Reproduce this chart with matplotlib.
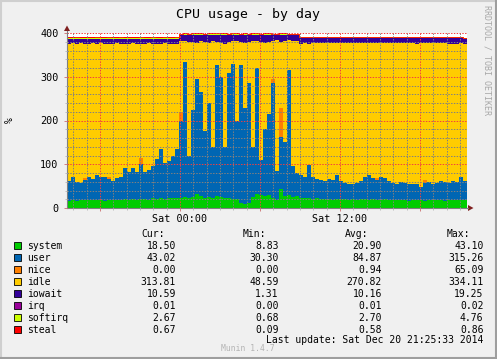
import numpy as np
import matplotlib.pyplot as plt
from matplotlib.patches import Polygon, Rectangle
from matplotlib.lines import Line2D
from matplotlib.ticker import MultipleLocator, FuncFormatter

plt.rcParams['font.family'] = 'DejaVu Sans Mono'

# time axis: hours relative to Sat 00:00, 100 samples of 18 min (30 h window)
T_START = -8.475
STEP = 0.3

system = [17, 18, 17, 18, 18, 19, 18, 19, 18, 17, 18, 19, 18, 19, 20, 19, 21, 19, 20, 20,
          19, 22, 20, 23, 21, 24, 22, 23,
          24, 25, 23, 26, 32, 27, 24, 26, 23, 28, 25, 24, 22, 21, 20, 12, 9, 11, 25, 32,
          30, 28, 30, 22, 18, 43, 27, 30, 25, 28,
          24, 22, 23, 21, 22, 20, 21, 20, 19, 20, 21, 20, 19, 20, 19, 20, 21, 19, 20, 18,
          19, 20, 18, 19, 18, 19, 18, 17, 18, 19, 18, 17, 18, 18, 19, 18, 17, 18, 19, 18,
          19, 18.5]
user = [45, 54, 43, 40, 45, 51, 49, 57, 54, 53, 48, 43, 50, 53, 72, 63, 71, 63, 80, 63,
        68, 73, 92, 112, 81, 84, 96, 112,
        176, 309, 97, 199, 262, 239, 151, 214, 117, 299, 275, 116, 286, 309, 180, 315, 220, 274, 115, 288,
        80, 152, 185, 263, 67, 120, 123, 285, 70, 52,
        51, 48, 75, 51, 44, 44, 41, 46, 45, 55, 41, 38, 37, 35, 39, 42, 49, 56, 48, 47,
        51, 48, 44, 39, 38, 41, 40, 38, 36, 37, 31, 41, 42, 37, 39, 44, 43, 40, 43, 42,
        53, 43]
nice = [0, 0, 0, 0, 5, 0, 0, 0, 0, 0, 6, 0, 0, 0, 0, 0, 0, 0, 15, 0,
        0, 0, 0, 0, 0, 0, 0, 0,
        20, 0, 0, 0, 0, 0, 0, 0, 0, 0, 0, 0, 0, 0, 0, 0, 0, 0, 0, 0,
        0, 0, 0, 10, 0, 65, 0, 0, 0, 0,
        0, 0, 0, 0, 0, 0, 0, 0, 0, 0, 0, 0, 0, 0, 0, 0, 0, 0, 0, 4,
        0, 0, 0, 0, 0, 0, 0, 0, 0, 0, 0, 6, 0, 0, 0, 0, 0, 0, 0, 0,
        0, 0]
idle = [314, 305, 316, 319, 308, 305, 310, 300, 305, 306, 303, 314, 309, 304, 283, 294, 285, 294, 259, 293,
        290, 281, 263, 241, 275, 267, 258, 240,
        161, 48, 259, 155, 84, 116, 204, 137, 241, 53, 78, 236, 71, 51, 182, 53, 149, 94, 241, 62,
        270, 197, 164, 86, 298, 152, 232, 68, 286, 302,
        301, 307, 278, 305, 312, 313, 316, 311, 314, 302, 316, 319, 322, 322, 320, 315, 307, 303, 309, 309,
        307, 310, 315, 320, 321, 318, 319, 323, 323, 320, 328, 314, 317, 323, 319, 316, 317, 318, 313, 316,
        305, 314]
iowait = [11, 10, 11, 10, 11, 12, 10, 11, 10, 11, 12, 11, 10, 11, 12, 11, 10, 11, 13, 11,
          10, 11, 12, 11, 10, 12, 11, 12,
          14, 13, 16, 15, 17, 13, 16, 18, 14, 15, 17, 19, 16, 14, 13, 15, 17, 16, 14, 13,
          15, 18, 16, 14, 12, 15, 13, 12, 14, 13,
          12, 11, 12, 11, 10, 11, 10, 11, 10, 11, 10, 11, 10, 11, 10, 11, 11, 10, 11, 10,
          11, 10, 11, 10, 11, 10, 11, 10, 11, 12, 11, 10, 11, 10, 11, 10, 11, 12, 13, 12,
          11, 10.6]
irq = [0.01, 0.01, 0.01, 0.01, 0.01, 0.01, 0.01, 0.01, 0.01, 0.01, 0.01, 0.01, 0.01, 0.01, 0.01, 0.01, 0.01, 0.01, 0.01, 0.01,
       0.01, 0.01, 0.01, 0.01, 0.01, 0.01, 0.01, 0.01, 0.01, 0.01, 0.01, 0.01, 0.01, 0.01, 0.01, 0.01, 0.01, 0.01, 0.01, 0.01,
       0.01, 0.01, 0.01, 0.01, 0.01, 0.01, 0.01, 0.01, 0.01, 0.01, 0.01, 0.01, 0.01, 0.01, 0.01, 0.01, 0.01, 0.01, 0.01, 0.01,
       0.01, 0.01, 0.01, 0.01, 0.01, 0.01, 0.01, 0.01, 0.01, 0.01, 0.01, 0.01, 0.01, 0.01, 0.01, 0.01, 0.01, 0.01, 0.01, 0.01,
       0.01, 0.01, 0.01, 0.01, 0.01, 0.01, 0.01, 0.01, 0.01, 0.01, 0.01, 0.01, 0.01, 0.01, 0.01, 0.01, 0.01, 0.01, 0.01, 0.01]
softirq = [2.6, 2.7, 2.8, 2.6, 2.7, 2.5, 2.7, 2.8, 2.6, 2.7, 2.9, 2.6, 2.7, 2.8, 2.6, 2.7, 2.5, 2.7, 2.8, 2.6,
           2.7, 2.9, 2.6, 2.7, 2.8, 2.6, 2.7, 2.8,
           3.1, 3.4, 2.9, 3.6, 3.2, 3.8, 3.0, 3.5, 3.3, 4.1, 3.2, 3.6, 3.0, 3.9, 3.4, 3.1, 3.7, 3.2, 3.5, 4.8,
           3.0, 3.3, 3.6, 3.1, 2.9, 3.4, 3.2, 3.0, 2.8, 2.7,
           2.6, 2.7, 2.6, 2.5, 2.7, 2.6, 2.8, 2.6, 2.7, 2.5, 2.6, 2.7, 2.6, 2.8, 2.6, 2.5, 2.7, 2.6, 2.7, 2.6,
           2.5, 2.7, 2.6, 2.8, 2.6, 2.7, 2.6, 2.5, 2.7, 2.6, 2.7, 2.6, 2.8, 2.6, 2.5, 2.7, 2.6, 2.7, 2.6, 2.8,
           2.6, 2.67]
steal = [0.6, 0.5, 0.6, 0.7, 0.6, 0.5, 0.6, 0.6, 0.7, 0.6, 0.5, 0.6, 0.6, 0.7, 0.6, 0.5, 0.6, 0.6, 0.7, 0.6,
         0.5, 0.6, 0.6, 0.7, 0.6, 0.5, 0.6, 0.6,
         0.7, 0.8, 0.6, 0.7, 0.9, 0.6, 0.7, 0.8, 0.6, 0.7, 0.8, 0.6, 0.7, 0.9, 0.6, 0.7, 0.8, 0.6, 0.7, 0.8,
         0.6, 0.7, 0.8, 0.6, 0.7, 0.6, 0.7, 0.6, 0.5, 0.6,
         0.6, 0.5, 0.6, 0.7, 0.6, 0.5, 0.6, 0.6, 0.7, 0.6, 0.5, 0.6, 0.6, 0.7, 0.6, 0.5, 0.6, 0.6, 0.7, 0.6,
         0.5, 0.6, 0.6, 0.7, 0.6, 0.5, 0.6, 0.6, 0.7, 0.6, 0.5, 0.6, 0.6, 0.7, 0.6, 0.5, 0.6, 0.6, 0.7, 0.6,
         0.5, 0.67]

names = ["system", "user", "nice", "idle", "iowait", "irq", "softirq", "steal"]
colors = ["#00CC00", "#0066B3", "#FF8000", "#FFCC00", "#330099", "#990099", "#CCFF00", "#FF0000"]
cur = ["18.50", "43.02", "0.00", "313.81", "10.59", "0.01", "2.67", "0.67"]
mins = ["8.83", "30.30", "0.00", "48.59", "1.31", "0.00", "0.68", "0.09"]
avgs = ["20.90", "84.87", "0.94", "270.82", "10.16", "0.01", "2.70", "0.58"]
maxs = ["43.10", "315.26", "65.09", "334.11", "19.25", "0.02", "4.76", "0.86"]
xlabels = {0: "Sat 00:00", 12: "Sat 12:00"}

W, H = 497, 359


def fx(x):
    return x / W


def fy(y):
    return 1 - y / H


fig = plt.figure(figsize=(W / 100, H / 100), dpi=100, facecolor="#F0F0F0")
ax = fig.add_axes([fx(67), fy(208), 400 / W, 175 / H])
ax.set_facecolor("white")

series = [system, user, nice, idle, iowait, irq, softirq, steal]
t = T_START + STEP * np.arange(len(system) + 1)
base = np.zeros(len(system))
for vals, c in zip(series, colors):
    top = base + np.array(vals, dtype=float)
    lo = np.append(base, base[-1])
    hi = np.append(top, top[-1])
    ax.fill_between(t, lo, hi, step="post", color=c, linewidth=0, antialiased=False)
    if c in ("#CCFF00", "#FF0000"):
        ax.step(t, hi, where="post", color=c, lw=0.6)
    base = top

ax.set_xlim(T_START, T_START + STEP * len(system))
ax.set_ylim(0, 400)

ax.xaxis.set_major_locator(MultipleLocator(6))
ax.xaxis.set_minor_locator(MultipleLocator(1))
ax.yaxis.set_major_locator(MultipleLocator(100))
ax.yaxis.set_minor_locator(MultipleLocator(20))
ax.xaxis.set_major_formatter(FuncFormatter(lambda v, p: xlabels.get(int(round(v)), "")))
ax.yaxis.set_major_formatter(FuncFormatter(lambda v, p: "%d" % v))

ax.set_axisbelow(False)
ax.grid(which="minor", color=(0.5, 0.5, 0.5, 0.22), linestyle=(0, (1.4, 1.4)), lw=0.72)
ax.grid(which="major", color=(0.95, 0.25, 0.25, 0.32), linestyle=(0, (1.4, 1.4)), lw=0.72)

for s in ["top", "right"]:
    ax.spines[s].set_visible(False)
for s in ["left", "bottom"]:
    ax.spines[s].set_color("#7F7F7F")
    ax.spines[s].set_linewidth(0.8)

ax.tick_params(which="major", length=2, width=0.7, color="#D08080", labelsize=7.3, pad=2)
ax.tick_params(which="minor", length=1.5, width=0.7, color="#BBBBBB")
ax.tick_params(axis="y", pad=4)

# axis arrows
fig.add_artist(Line2D([fx(67), fx(67)], [fy(33), fy(31)], color="#7F7F7F", lw=0.8))
fig.add_artist(Line2D([fx(467), fx(468)], [fy(208), fy(208)], color="#7F7F7F", lw=0.8))
fig.add_artist(Polygon([[fx(64), fy(31)], [fx(70), fy(31)], [fx(67), fy(25.5)]],
                       closed=True, color="#802020", lw=0))
fig.add_artist(Polygon([[fx(468), fy(205)], [fx(468), fy(211)], [fx(473.5), fy(208)]],
                       closed=True, color="#802020", lw=0))

# title and side texts
fig.text(fx(247.5), fy(18.3), "CPU usage - by day", ha="center", va="baseline", fontsize=9.5)
fig.text(fx(10), fy(120.5), "%", rotation=90, ha="center", va="center", fontsize=7)
fig.text(fx(487), fy(5), "RRDTOOL / TOBI OETIKER", rotation=270, ha="center", va="top",
         fontsize=6, color="#A8A8A8")

# legend table
fs = 7
hdr_y = 237
for label, xh in zip(["Cur:", "Min:", "Avg:", "Max:"], [141, 243, 345, 447]):
    fig.text(fx(xh), fy(hdr_y), label, ha="left", va="baseline", fontsize=fs)

for k, name in enumerate(names):
    yb = 249 + 12 * k
    fig.add_artist(Rectangle((fx(13.5), fy(yb)), 7 / W, 7 / H, facecolor=colors[k],
                             edgecolor="black", lw=0.6))
    fig.text(fx(27), fy(yb), name, ha="left", va="baseline", fontsize=fs)
    for col, xr in zip([cur, mins, avgs, maxs], [176, 278.5, 382, 483.5]):
        fig.text(fx(xr), fy(yb), col[k], ha="right", va="baseline", fontsize=fs)

fig.text(fx(248), fy(351), "Munin 1.4.7", ha="center", va="baseline", fontsize=5.8, color="#B4B4B4")
fig.text(fx(483.5), fy(343), "Last update: Sat Dec 20 21:25:33 2014", ha="right", va="baseline",
         fontsize=fs)

# frame shading
fig.add_artist(Line2D([0, 1], [fy(0.75), fy(0.75)], color="#CFCFCF", lw=1.5))
fig.add_artist(Line2D([fx(0.75), fx(0.75)], [0, 1], color="#CFCFCF", lw=1.5))
fig.add_artist(Line2D([0, 1], [fy(358.25), fy(358.25)], color="#9E9E9E", lw=1.5))
fig.add_artist(Line2D([fx(496.25), fx(496.25)], [0, 1], color="#9E9E9E", lw=1.5))

fig.savefig("out.png", dpi=100, facecolor=fig.get_facecolor())
